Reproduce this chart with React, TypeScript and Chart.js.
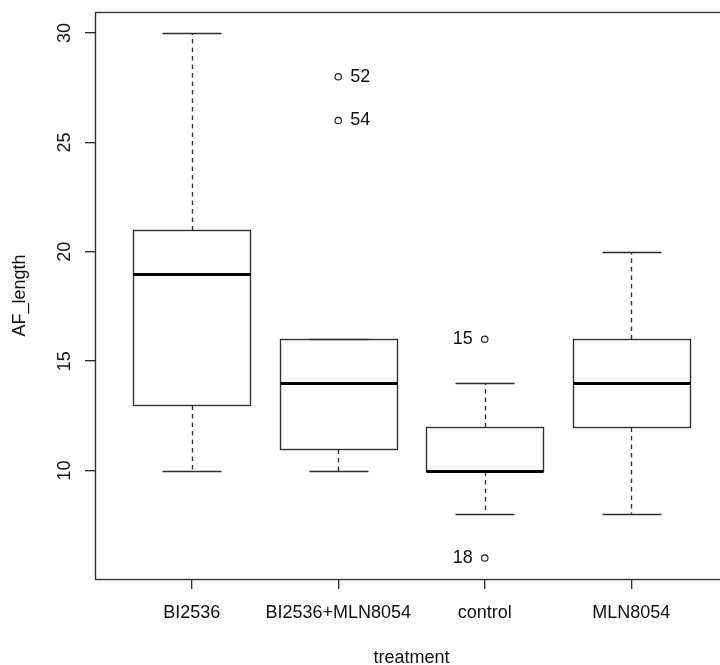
import { useEffect, useRef } from 'react';
import { Chart, registerables } from 'chart.js';

Chart.register(...registerables);

// Five-number summaries per treatment group
const treatments = ['BI2536', 'BI2536+MLN8054', 'control', 'MLN8054'];
const whiskerLow = [10, 10, 8, 8];
const quartile1 = [13, 11, 10, 12];
const medians = [19, 14, 10, 14];
const quartile3 = [21, 16, 12, 16];
const whiskerHigh = [30, 16, 14, 20];

// Outlying observations: group number (1-based), value, observation id
const outlierGroup = [2, 2, 3, 3];
const outlierValues = [28, 26, 16, 6];
const outlierIds = ['52', '54', '15', '18'];

const yTicks = [10, 15, 20, 25, 30];

const FONT = '"Liberation Sans", Arial, Helvetica, sans-serif';
const FONT_SIZE = 18;
const INK = '#111111';
const LINE = '#2e2e2e';
const LINE_W = 1.35;
const BOX_HALF = 0.4;
const STAPLE_HALF = 0.2;

const crisp = (v: number) => Math.round(v) + 0.5;

const boxPlotPlugin = {
  id: 'rBoxPlot',
  beforeDatasetsDraw(chart: any) {
    const { ctx } = chart;
    const x = chart.scales.x;
    const y = chart.scales.y;
    ctx.save();
    treatments.forEach((_, i) => {
      const xc = x.getPixelForValue(i + 1);
      const bl = x.getPixelForValue(i + 1 - BOX_HALF);
      const br = x.getPixelForValue(i + 1 + BOX_HALF);
      const sl = x.getPixelForValue(i + 1 - STAPLE_HALF);
      const sr = x.getPixelForValue(i + 1 + STAPLE_HALF);
      const yq1 = y.getPixelForValue(quartile1[i]);
      const yq3 = y.getPixelForValue(quartile3[i]);
      const ylo = y.getPixelForValue(whiskerLow[i]);
      const yhi = y.getPixelForValue(whiskerHigh[i]);
      const ymed = y.getPixelForValue(medians[i]);

      ctx.strokeStyle = LINE;
      ctx.lineWidth = LINE_W;

      // dashed whiskers
      ctx.setLineDash([4.5, 4]);
      ctx.beginPath();
      if (whiskerHigh[i] > quartile3[i]) {
        ctx.moveTo(crisp(xc), crisp(yq3));
        ctx.lineTo(crisp(xc), crisp(yhi));
      }
      if (whiskerLow[i] < quartile1[i]) {
        ctx.moveTo(crisp(xc), crisp(yq1));
        ctx.lineTo(crisp(xc), crisp(ylo));
      }
      ctx.stroke();
      ctx.setLineDash([]);

      // staples
      ctx.beginPath();
      ctx.moveTo(crisp(sl), crisp(yhi));
      ctx.lineTo(crisp(sr), crisp(yhi));
      ctx.moveTo(crisp(sl), crisp(ylo));
      ctx.lineTo(crisp(sr), crisp(ylo));
      ctx.stroke();

      // box
      ctx.strokeRect(crisp(bl), crisp(yq3), Math.round(br) - Math.round(bl), Math.round(yq1) - Math.round(yq3));

      // median
      ctx.strokeStyle = '#000000';
      ctx.lineWidth = 3.2;
      ctx.beginPath();
      ctx.moveTo(crisp(bl), crisp(ymed));
      ctx.lineTo(crisp(br), crisp(ymed));
      ctx.stroke();
    });
    ctx.restore();
  },
  afterDraw(chart: any) {
    const { ctx, chartArea } = chart;
    const x = chart.scales.x;
    const y = chart.scales.y;
    ctx.save();

    // plot frame
    ctx.strokeStyle = LINE;
    ctx.lineWidth = LINE_W;
    ctx.strokeRect(
      crisp(chartArea.left),
      crisp(chartArea.top),
      Math.round(chartArea.right) - Math.round(chartArea.left),
      Math.round(chartArea.bottom) - Math.round(chartArea.top)
    );

    ctx.fillStyle = INK;
    ctx.font = `${FONT_SIZE}px ${FONT}`;

    // vertical tick labels on the y axis
    y.ticks.forEach((t: any) => {
      const py = y.getPixelForValue(t.value);
      ctx.save();
      ctx.translate(chartArea.left - 25, py);
      ctx.rotate(-Math.PI / 2);
      ctx.textAlign = 'center';
      ctx.textBaseline = 'alphabetic';
      ctx.fillText(String(t.value), 0, 0);
      ctx.restore();
    });

    // axis titles
    const midY = (chartArea.top + chartArea.bottom) / 2;
    const midX = (chartArea.left + chartArea.right) / 2;
    ctx.save();
    ctx.translate(25, midY);
    ctx.rotate(-Math.PI / 2);
    ctx.textAlign = 'center';
    ctx.textBaseline = 'alphabetic';
    ctx.fillText('AF_length', 0, 0);
    ctx.restore();

    ctx.textAlign = 'center';
    ctx.textBaseline = 'alphabetic';
    ctx.fillText('treatment', midX, 663);

    // outlier ids
    ctx.textBaseline = 'middle';
    outlierValues.forEach((v, i) => {
      const px = x.getPixelForValue(outlierGroup[i]);
      const py = y.getPixelForValue(v);
      if (outlierGroup[i] === 2) {
        ctx.textAlign = 'left';
        ctx.fillText(outlierIds[i], px + 12, py);
      } else {
        ctx.textAlign = 'right';
        ctx.fillText(outlierIds[i], px - 12, py);
      }
    });
    ctx.restore();
  },
};

export default function App() {
  const canvasRef = useRef<HTMLCanvasElement | null>(null);

  useEffect(() => {
    const canvas = canvasRef.current;
    if (!canvas) return;
    const chart = new Chart(canvas, {
      type: 'scatter',
      data: {
        datasets: [
          {
            label: 'outliers',
            data: outlierValues.map((v, i) => ({ x: outlierGroup[i], y: v })),
            pointStyle: 'circle',
            pointRadius: 3.2,
            pointHoverRadius: 3.2,
            borderColor: '#222222',
            borderWidth: 1.2,
            backgroundColor: 'rgba(255,255,255,0)',
            showLine: false,
          },
        ],
      },
      options: {
        responsive: false,
        animation: false,
        devicePixelRatio: 1,
        events: [],
        layout: { padding: { top: 12, right: 12, left: 0, bottom: 0 } },
        plugins: {
          legend: { display: false },
          tooltip: { enabled: false },
        },
        scales: {
          x: {
            type: 'linear',
            min: 0.34,
            max: 4.66,
            afterBuildTicks: (scale: any) => {
              scale.ticks = treatments.map((_, i) => ({ value: i + 1 }));
            },
            afterFit: (scale: any) => {
              scale.height = 86;
            },
            border: { display: false },
            grid: {
              drawOnChartArea: false,
              drawTicks: true,
              tickLength: 10,
              color: LINE,
              tickColor: LINE,
              lineWidth: LINE_W,
            },
            ticks: {
              autoSkip: false,
              maxRotation: 0,
              minRotation: 0,
              padding: 13.5,
              color: INK,
              font: { family: FONT, size: FONT_SIZE, lineHeight: 1.2 },
              callback: (value: any) => treatments[Math.round(Number(value)) - 1] ?? '',
            },
          },
          y: {
            type: 'linear',
            min: 5.04,
            max: 30.96,
            afterBuildTicks: (scale: any) => {
              scale.ticks = yTicks.map((v) => ({ value: v }));
            },
            afterFit: (scale: any) => {
              scale.width = 95;
            },
            border: { display: false },
            grid: {
              drawOnChartArea: false,
              drawTicks: true,
              tickLength: 10,
              color: LINE,
              tickColor: LINE,
              lineWidth: LINE_W,
            },
            ticks: { display: false },
          },
        },
      },
      plugins: [boxPlotPlugin],
    });
    return () => chart.destroy();
  }, []);

  return (
    <div
      style={{
        position: 'fixed',
        left: 0,
        top: 0,
        width: 720,
        height: 665,
        overflow: 'hidden',
        background: '#ffffff',
      }}
    >
      <canvas ref={canvasRef} width={740} height={665} style={{ display: 'block' }} />
    </div>
  );
}
